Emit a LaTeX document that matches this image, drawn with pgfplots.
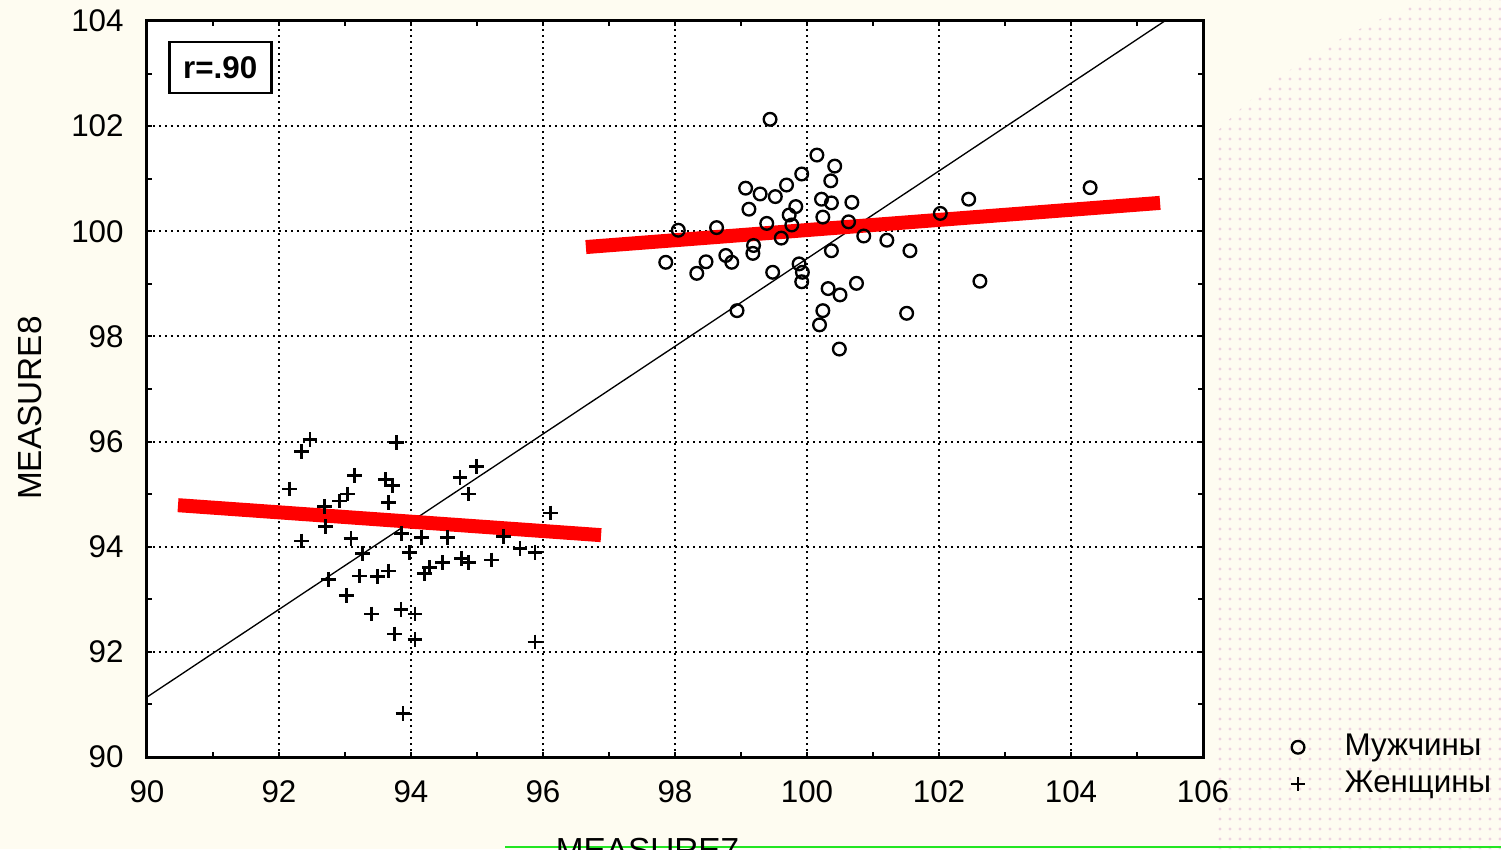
\documentclass[border=0pt]{standalone}
\usepackage{fontspec}
\setmainfont{Liberation Sans}
\usepackage{pgfplots}
\pgfplotsset{compat=1.18}
\usetikzlibrary{patterns}
\definecolor{bgcream}{HTML}{FEFCF1}
\definecolor{dotpink}{HTML}{EED2E2}
\definecolor{brightgreen}{HTML}{22E622}
\begin{document}
\begin{tikzpicture}
\fill[bgcream] (-44.1pt,-27.6pt) rectangle (406.2pt,227.1pt);
\useasboundingbox (-44.1pt,-27.6pt) rectangle (406.2pt,227.1pt);
\fill[pattern=dots, pattern color=dotpink] (319.5pt,-27.6pt) -- (319.5pt,186pt) .. controls (335pt,203pt) and (360pt,219pt) .. (384.9pt,227.1pt) -- (406.2pt,227.1pt) -- (406.2pt,-27.6pt) -- cycle;
\draw[brightgreen, line width=0.8pt] (107.4pt,-27pt) -- (406.2pt,-27pt);
\begin{axis}[
  at={(0,0)}, anchor=south west,
  scale only axis, width=316.8pt, height=220.8pt,
  xmin=90, xmax=106, ymin=90, ymax=104,
  xtick={90,92,...,106}, ytick={90,92,...,104},
  minor tick num=1, tick align=inside,
  major tick length=1.5pt, minor tick length=1.5pt,
  every tick/.style={black, line width=0.6pt},
  grid=major,
  major grid style={black, line width=0.6pt, dash pattern=on 0.6pt off 1.2pt},
  axis line style={line width=0.9pt},
  axis background/.style={fill=white},
  /pgf/number format/assume math mode=true,
  tick label style={font=\fontsize{9.4}{11}\selectfont},
  xticklabel style={yshift=-3.5pt},
  yticklabel style={xshift=-3.5pt},
  xlabel={MEASURE7}, ylabel={MEASURE8},
  label style={font=\fontsize{8}{10}\selectfont},
  every axis x label/.style={at={(axis description cs:0.474,-0.110)}, anchor=north, inner sep=0pt},
  every axis y label/.style={at={(axis description cs:-0.111,0.474)}, rotate=90, anchor=center},
  legend style={at={(axis description cs:1.072,0.0503)}, anchor=north west, draw=none, fill=none,
    font=\fontsize{9.4}{11}\selectfont, row sep=-0.9pt},
  legend image code/.code={\path[draw=none,fill=none] (-2.5pt,-2pt) rectangle (12pt,2pt); \draw[#1] plot coordinates {(0pt,0pt)};},
  legend cell align=left,
]
\addplot[only marks, mark=o, mark size=1.9pt, line width=0.7pt, black] table {
x y
99.44 102.13
100.15 101.45
100.42 101.24
100.36 100.96
99.92 101.09
99.69 100.88
99.52 100.66
99.29 100.71
99.07 100.82
99.12 100.42
99.83 100.47
99.73 100.31
100.22 100.61
100.37 100.54
100.68 100.55
100.24 100.27
99.39 100.15
100.63 100.18
99.77 100.12
98.05 100.02
98.63 100.07
99.61 99.87
100.86 99.91
101.21 99.83
102.02 100.34
102.45 100.61
99.19 99.73
99.18 99.58
100.37 99.63
101.56 99.63
97.86 99.41
98.47 99.42
98.77 99.54
98.86 99.41
98.33 99.20
99.48 99.22
99.88 99.38
99.93 99.22
99.92 99.04
100.32 98.91
100.50 98.79
100.75 99.01
102.62 99.05
98.94 98.49
100.24 98.49
100.19 98.22
101.51 98.44
100.49 97.76
104.29 100.83
};
\addlegendentry{Мужчины}
\addplot[only marks, mark=+, mark size=2.2pt, line width=0.8pt, black] table {
x y
92.47 96.04
92.34 95.81
93.78 95.98
92.16 95.10
93.14 95.36
93.72 95.16
93.61 95.28
93.04 95.00
92.92 94.87
92.69 94.77
93.66 94.84
92.70 94.38
92.34 94.11
93.09 94.16
93.86 94.25
94.16 94.18
94.55 94.18
93.98 93.89
93.27 93.87
94.74 95.32
94.99 95.52
94.87 95.00
96.11 94.64
95.40 94.19
95.65 93.97
95.88 93.89
95.22 93.75
94.87 93.70
94.77 93.78
94.48 93.70
94.28 93.60
94.20 93.49
93.66 93.54
93.49 93.43
93.22 93.44
92.75 93.38
93.02 93.07
93.40 92.72
93.85 92.81
94.06 92.72
93.75 92.34
94.06 92.24
95.88 92.19
93.88 90.83
};
\addlegendentry{Женщины}
\addplot[black, line width=0.4pt, forget plot] coordinates {(90,91.14) (105.42,104)};
\addplot[red, line width=4.2pt, forget plot] coordinates {(90.47,94.79) (96.88,94.22)};
\addplot[red, line width=4.2pt, forget plot] coordinates {(96.65,99.70) (105.35,100.54)};
\node[draw, line width=0.75pt, minimum width=30.6pt, minimum height=15.3pt, inner sep=0pt,
  font=\bfseries\fontsize{9.4}{11}\selectfont, fill=white] at (axis cs:91.11,103.12) {r=.90};
\end{axis}
\end{tikzpicture}
\end{document}
